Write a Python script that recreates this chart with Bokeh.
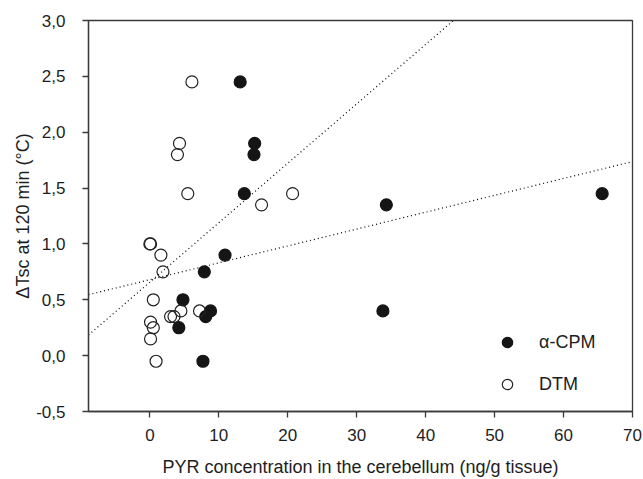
from bokeh.plotting import figure
from bokeh.models import FixedTicker, CustomJSTickFormatter, Range1d, Legend, LegendItem
from bokeh.embed import file_html
from bokeh.resources import INLINE
import numpy as np

# alpha-CPM (filled)
cpm_x = [13.1, 15.2, 15.1, 13.7, 34.3, 65.6, 10.9, 7.9, 4.8, 8.8, 8.1, 4.2, 7.7, 33.8]
cpm_y = [2.45, 1.90, 1.80, 1.45, 1.35, 1.45, 0.90, 0.75, 0.50, 0.40, 0.35, 0.25, -0.05, 0.40]
# DTM (open)
dtm_x = [6.1, 4.3, 4.0, 5.5, 16.2, 20.7, 0.0, 0.1, 1.6, 1.9, 0.5, 4.5, 7.2, 3.0, 3.5, 0.1, 0.5, 0.1, 0.9]
dtm_y = [2.45, 1.90, 1.80, 1.45, 1.35, 1.45, 1.00, 1.00, 0.90, 0.75, 0.50, 0.40, 0.40, 0.35, 0.35, 0.30, 0.25, 0.15, -0.05]

# regression lines (intercept, slope)
cpm_fit = (0.680, 0.0151)
dtm_fit = (0.658, 0.0532)

x_ticks = [0, 10, 20, 30, 40, 50, 60, 70]
y_ticks = [-0.5, 0.0, 0.5, 1.0, 1.5, 2.0, 2.5, 3.0]
x_lo, x_hi = -8.9, 70
y_lo, y_hi = -0.5, 3.0

AX = "#3a3a3a"
TXT = "#1e1e1e"
FONT = "Liberation Sans"

p = figure(width=643, height=479, output_backend="svg", toolbar_location=None,
           x_range=Range1d(x_lo, x_hi), y_range=Range1d(y_lo, y_hi),
           min_border_left=88, min_border_right=11, min_border_top=20, min_border_bottom=67)
p.xgrid.visible = False
p.ygrid.visible = False
p.outline_line_color = AX
p.outline_line_width = 1.3
p.background_fill_color = "white"
p.border_fill_color = "white"

for ax in (p.xaxis[0], p.yaxis[0]):
    ax.axis_line_color = AX
    ax.axis_line_width = 1.3
    ax.major_tick_line_color = AX
    ax.major_tick_line_width = 1.3
    ax.major_tick_out = 6
    ax.major_tick_in = 0
    ax.minor_tick_line_color = None
    ax.major_label_text_font = FONT
    ax.major_label_text_font_size = "17px"
    ax.major_label_text_color = TXT
    ax.axis_label_text_font = FONT
    ax.axis_label_text_font_size = "18px"
    ax.axis_label_text_font_style = "normal"
    ax.axis_label_text_color = TXT

p.xaxis.ticker = FixedTicker(ticks=x_ticks)
p.yaxis.ticker = FixedTicker(ticks=y_ticks)
p.yaxis.formatter = CustomJSTickFormatter(code="return tick.toFixed(1).replace('.', ',');")
p.xaxis.axis_label = "PYR concentration in the cerebellum (ng/g tissue)"
p.yaxis.axis_label = "\u0394Tsc at 120 min (\u00b0C)"
p.xaxis.major_label_standoff = 11
p.xaxis.axis_label_standoff = 13
p.yaxis.major_label_standoff = 17
p.yaxis.axis_label_standoff = 0

xs = np.array([x_lo, x_hi])
p.line(xs, cpm_fit[0] + cpm_fit[1] * xs, line_color="black", line_width=1.2, line_dash="1 3")
p.line(xs, dtm_fit[0] + dtm_fit[1] * xs, line_color="black", line_width=1.2, line_dash="1 3")

r_cpm = p.scatter(cpm_x, cpm_y, size=12, fill_color="#151515", line_color="#151515", line_width=1.2)
r_dtm = p.scatter(dtm_x, dtm_y, size=12, fill_color=None, line_color="#222222", line_width=1.2)

legend = Legend(items=[LegendItem(label="\u03b1-CPM", renderers=[r_cpm]),
                       LegendItem(label="DTM", renderers=[r_dtm])],
                location=(406, 14), glyph_width=26, glyph_height=26, label_height=26,
                label_standoff=19, spacing=16, padding=0, margin=0,
                border_line_color=None, background_fill_alpha=0,
                label_text_font=FONT, label_text_font_size="18px", label_text_color=TXT)
p.add_layout(legend)

open("out.html", "w").write(file_html(p, INLINE))
